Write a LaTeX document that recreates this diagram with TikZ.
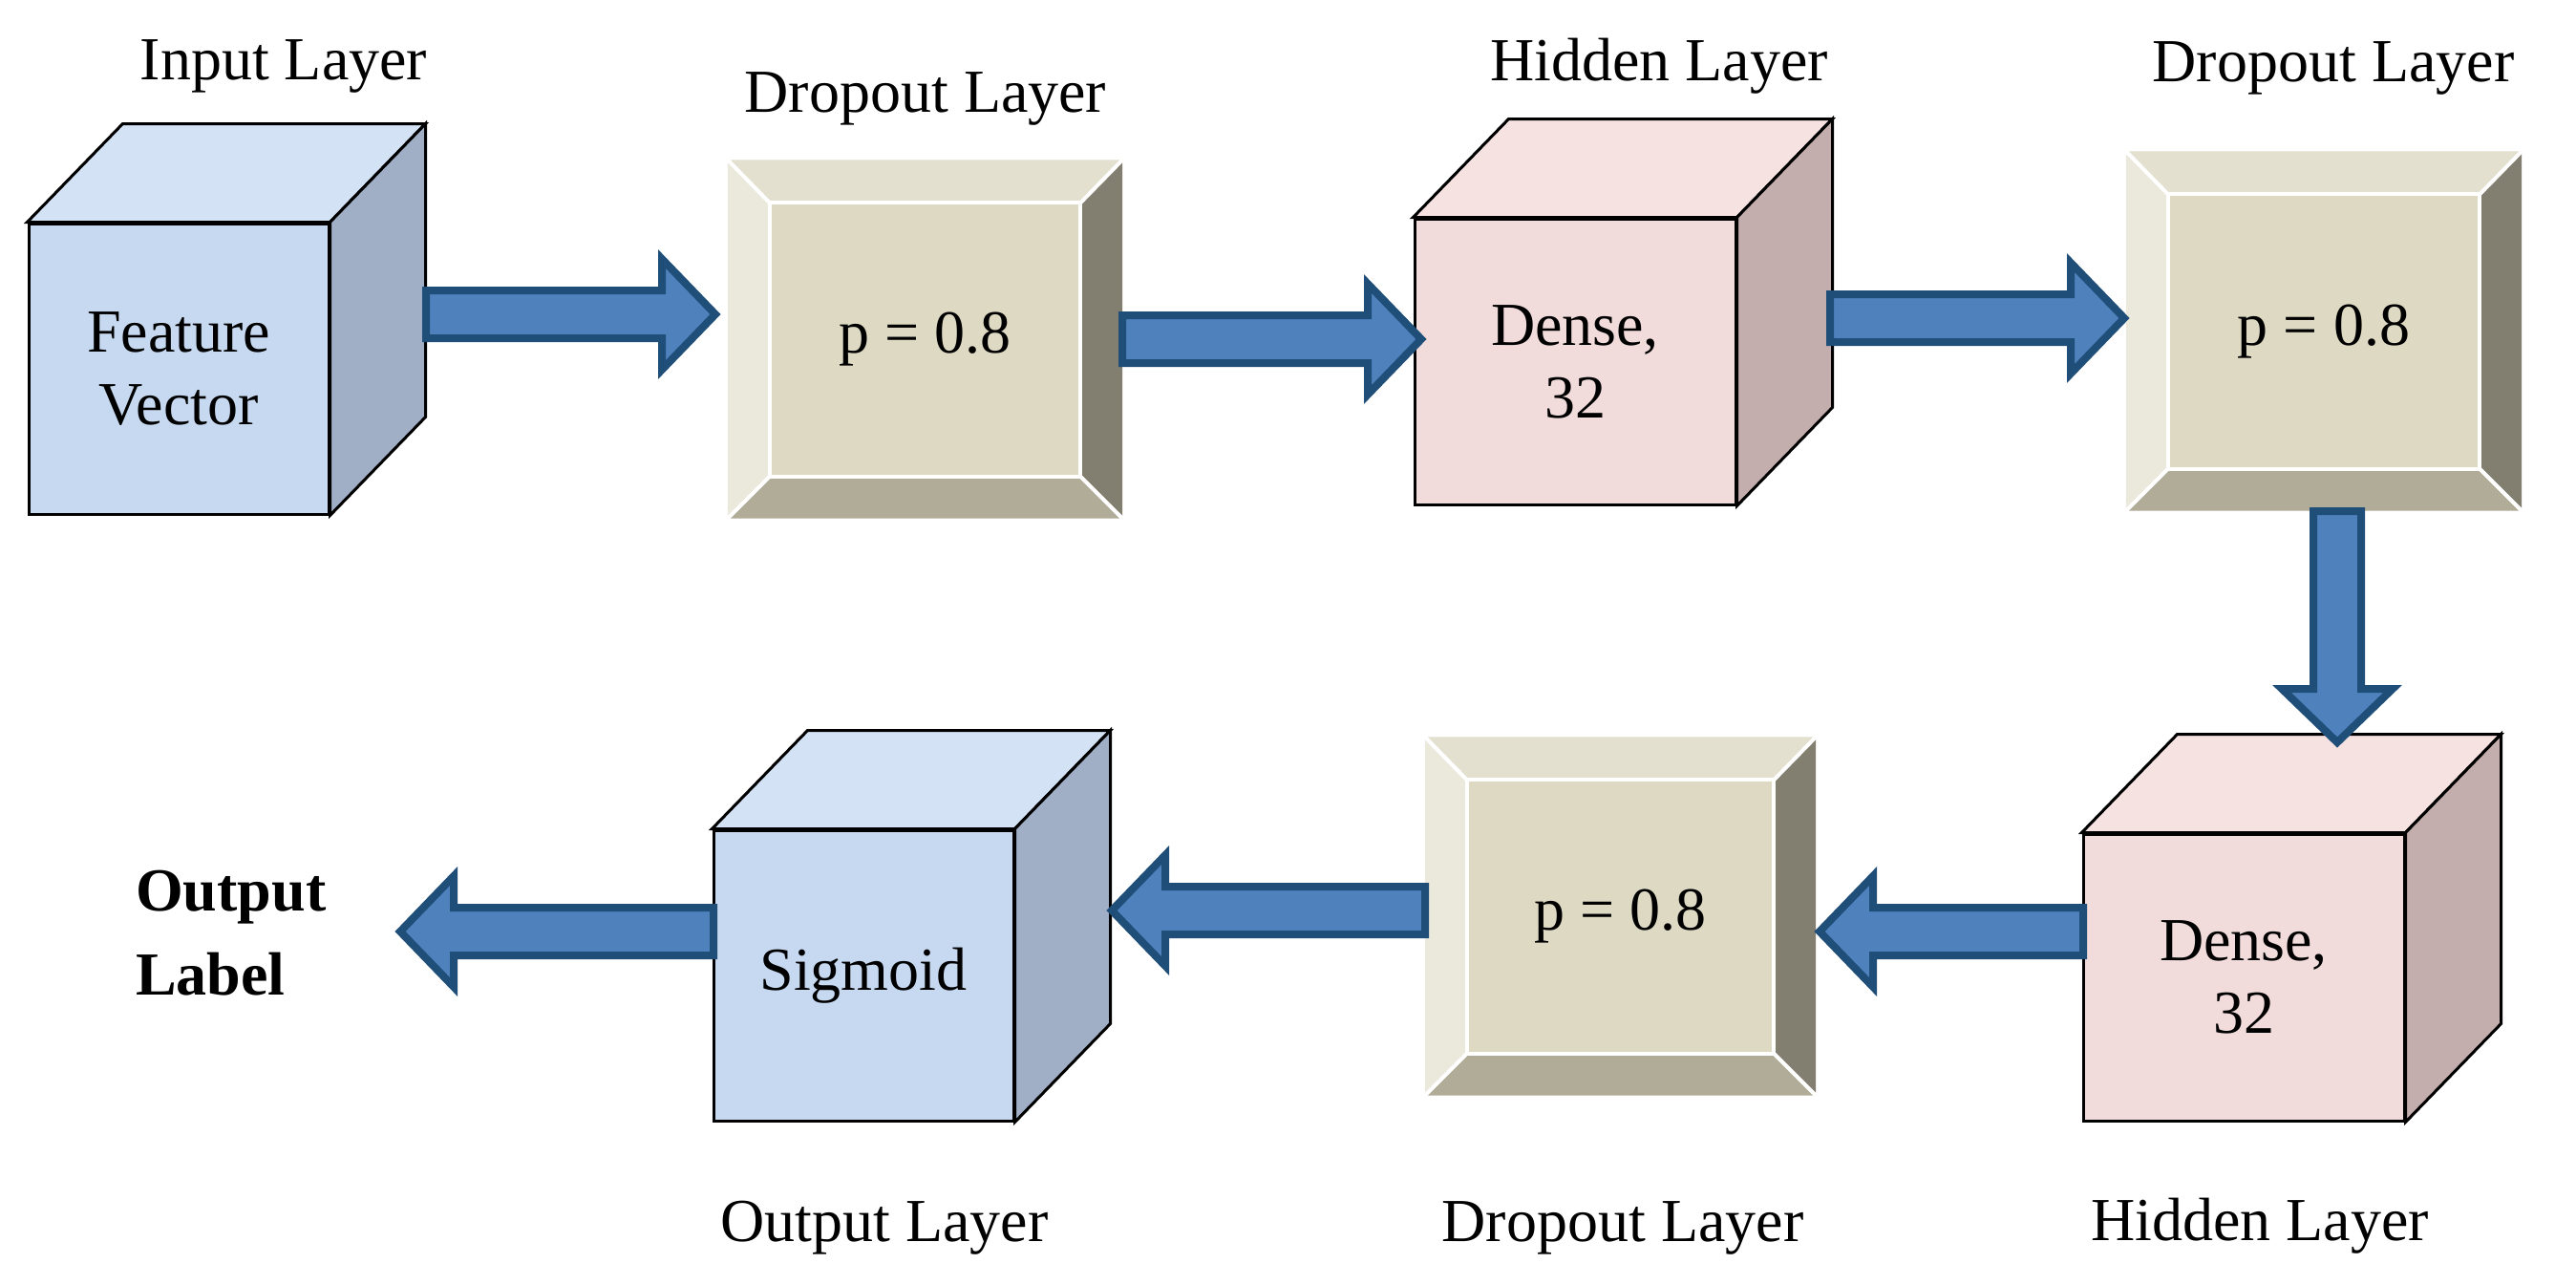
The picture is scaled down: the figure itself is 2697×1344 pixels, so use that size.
\documentclass[tikz,border=0pt]{standalone}
\usepackage{fontspec}
\setmainfont{Liberation Serif}
\usetikzlibrary{calc}
\definecolor{bluefront}{HTML}{C6D9F0}
\definecolor{bluetop}{HTML}{D3E2F5}
\definecolor{blueside}{HTML}{A0AFC6}
\definecolor{pinkfront}{HTML}{F2DCDB}
\definecolor{pinktop}{HTML}{F5E2E1}
\definecolor{pinkside}{HTML}{C4AEAD}
\definecolor{dinner}{HTML}{DDD9C3}
\definecolor{dtop}{HTML}{E3E0CF}
\definecolor{dleft}{HTML}{EBE8DC}
\definecolor{dbottom}{HTML}{B0AC98}
\definecolor{dright}{HTML}{827F70}
\definecolor{arrfill}{HTML}{4F81BD}
\definecolor{arrline}{HTML}{1F4E79}
\tikzset{
  x=1pt,y=-1pt,
  every node/.style={font=\fontsize{64}{76}\selectfont, inner sep=0pt},
  face/.style={draw=black, line width=3pt, line join=miter},
  barrow/.style={fill=arrfill, draw=arrline, line width=8pt, line join=miter},
  bevel/.style={draw=white, line width=4pt},
  lbl/.style={align=center},
}
\newcommand\mycube[7]{%
  \node[face, fill=#6front, minimum width=#4pt, minimum height=#5pt, align=center] (#1) at (#2,#3) {#7};
  \draw[face, fill=#6top] (#1.north west) -- ++(100,-103) -- ($(#1.north east)+(100,-103)$) -- (#1.north east) -- cycle;
  \draw[face, fill=#6side] (#1.north east) -- ++(100,-103) -- ($(#1.south east)+(100,-103)$) -- (#1.south east) -- cycle;
}
\newcommand\mydrop[5]{%
  \node[minimum width=#4pt-88pt, minimum height=#5pt-89pt] (#1) at ($(#2,#3)+(0,1)$) {p = 0.8};
  \coordinate (#1-onw) at ($(#1.north west)+(-44,-45)$);
  \coordinate (#1-one) at ($(#1.north east)+(44,-45)$);
  \coordinate (#1-osw) at ($(#1.south west)+(-44,44)$);
  \coordinate (#1-ose) at ($(#1.south east)+(44,44)$);
  \fill[dtop] (#1-onw) -- (#1-one) -- (#1.north east) -- (#1.north west) -- cycle;
  \fill[dleft] (#1-onw) -- (#1.north west) -- (#1.south west) -- (#1-osw) -- cycle;
  \fill[dbottom] (#1-osw) -- (#1.south west) -- (#1.south east) -- (#1-ose) -- cycle;
  \fill[dright] (#1-one) -- (#1-ose) -- (#1.south east) -- (#1.north east) -- cycle;
  \fill[dinner] (#1.north west) rectangle (#1.south east);
  \draw[bevel] (#1.north west) rectangle (#1.south east);
  \draw[bevel] (#1-onw) -- (#1.north west) (#1-one) -- (#1.north east) (#1-osw) -- (#1.south west) (#1-ose) -- (#1.south east);
  \node at (#1) {p = 0.8};
}
\newcommand\barrow[2]{%
  \coordinate (hb) at ($(#2)!56pt!(#1)$);
  \draw[barrow] ($(#1)!25pt!90:(#2)$) -- ($(hb)!25pt!-90:(#1)$) -- ($(hb)!58pt!-90:(#1)$) -- (#2)
    -- ($(hb)!58pt!90:(#1)$) -- ($(hb)!25pt!90:(#1)$) -- ($(#1)!25pt!-90:(#2)$) -- cycle;
}
\begin{document}
\begin{tikzpicture}
\useasboundingbox (0,0) rectangle (2697,1344);
\fill[white] (0,0) rectangle (2697,1344);
% cubes
\mycube{inp}{187}{386}{314}{304}{blue}{Feature\\Vector}
\mycube{hid1}{1649}{378.5}{336}{299}{pink}{Dense,\\32}
\mycube{outc}{904}{1021}{314}{304}{blue}{Sigmoid}
\mycube{hid2}{2349}{1023}{336}{300}{pink}{Dense,\\32}
% dropouts
\mydrop{d1}{968.5}{354.5}{413}{375}
\mydrop{d2}{2433}{346}{414}{376}
\mydrop{d3}{1696.5}{958.5}{409}{375}
% labels
\node (l1) at (297,69) {Input Layer};
\node (l2) at (969,103) {Dropout Layer};
\node (l3) at (1737,69) {Hidden Layer};
\node (l4) at (2443,71) {Dropout Layer};
\node (l5) at (926,1285) {Output Layer};
\node (l6) at (1699,1285) {Dropout Layer};
\node (l7) at (2366,1283) {Hidden Layer};
\node[anchor=west, align=left, font=\fontsize{64}{88}\selectfont\bfseries] (outlbl) at (142,977) {Output\\Label};
% arrow endpoints
\coordinate (a1s) at (446,329); \coordinate (a1e) at (749,329);
\coordinate (a2s) at (1175,355); \coordinate (a2e) at (1488,355);
\coordinate (a3s) at (1916,333); \coordinate (a3e) at (2224,333);
\coordinate (a4s) at (2447,535); \coordinate (a4e) at (2447,777);
\coordinate (a5s) at (2181,975); \coordinate (a5e) at (1905,975);
\coordinate (a6s) at (1492,953); \coordinate (a6e) at (1164,953);
\coordinate (a7s) at (747,975); \coordinate (a7e) at (419,975);
\barrow{a1s}{a1e}
\barrow{a2s}{a2e}
\barrow{a3s}{a3e}
\barrow{a4s}{a4e}
\barrow{a5s}{a5e}
\barrow{a6s}{a6e}
\barrow{a7s}{a7e}
\end{tikzpicture}
\end{document}
